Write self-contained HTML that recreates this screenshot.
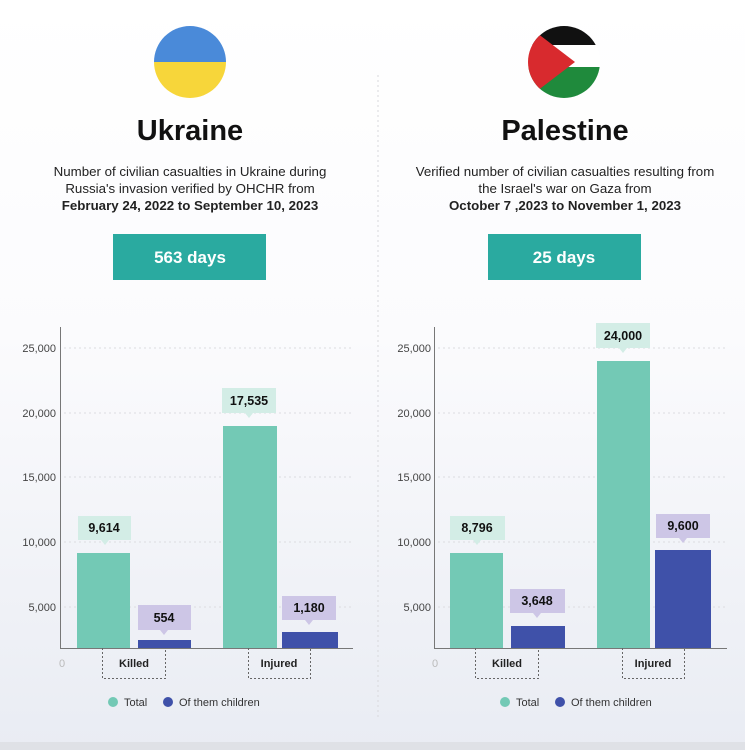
<!DOCTYPE html>
<html><head><meta charset="utf-8"><style>
html,body{margin:0;padding:0;width:745px;height:750px;overflow:hidden}
svg{display:block;font-family:"Liberation Sans",sans-serif}
</style></head><body>
<svg width="745" height="750" viewBox="0 0 745 750" xmlns="http://www.w3.org/2000/svg">
<defs>
<linearGradient id="bg" x1="0" y1="0" x2="0" y2="1">
<stop offset="0" stop-color="#ffffff"/><stop offset="0.45" stop-color="#fbfbfd"/><stop offset="1" stop-color="#e9ecf3"/>
</linearGradient>
<clipPath id="c1"><circle cx="190" cy="62" r="36"/></clipPath>
<clipPath id="c2"><circle cx="564" cy="62" r="36"/></clipPath>
</defs>
<rect width="745" height="750" fill="url(#bg)"/>
<rect y="742" width="745" height="8" fill="#dfe1e6"/>
<line x1="378" y1="75" x2="378" y2="720" stroke="#d8d8dc" stroke-dasharray="2,3"/>
<g clip-path="url(#c1)"><rect x="150" y="20" width="80" height="42" fill="#4a8ad9"/><rect x="150" y="62" width="80" height="40" fill="#f7d63a"/></g>
<g clip-path="url(#c2)"><rect x="520" y="20" width="90" height="25" fill="#111"/><rect x="520" y="45" width="90" height="22" fill="#fff"/><rect x="520" y="67" width="90" height="40" fill="#1f8a3c"/><polygon points="520,20 575,62 520,104" fill="#d82a2e"/></g>
<g font-weight="bold" font-size="29" fill="#111" text-anchor="middle"><text x="190" y="140">Ukraine</text><text x="565" y="140">Palestine</text></g>
<g font-size="13.3" fill="#222" text-anchor="middle">
<text x="190" y="176">Number of civilian casualties in Ukraine during</text>
<text x="190" y="193">Russia's invasion verified by OHCHR from</text>
<text x="190" y="210" font-weight="bold">February 24, 2022 to September 10, 2023</text>
<text x="565" y="176">Verified number of civilian casualties resulting from</text>
<text x="565" y="193">the Israel's war on Gaza from</text>
<text x="565" y="210" font-weight="bold">October 7 ,2023 to November 1, 2023</text>
</g>
<rect x="113" y="234" width="153" height="46" fill="#2aaaa0"/>
<rect x="488" y="234" width="153" height="46" fill="#2aaaa0"/>
<g font-weight="bold" font-size="17" fill="#fff" text-anchor="middle"><text x="190" y="263">563 days</text><text x="564" y="263">25 days</text></g>

<g font-size="11" fill="#444" text-anchor="end">
<text x="56" y="352">25,000</text><text x="56" y="417">20,000</text><text x="56" y="481">15,000</text><text x="56" y="546">10,000</text><text x="56" y="611">5,000</text>
<text x="431" y="352">25,000</text><text x="431" y="417">20,000</text><text x="431" y="481">15,000</text><text x="431" y="546">10,000</text><text x="431" y="611">5,000</text>
</g>
<g font-size="11" fill="#bbb"><text x="59" y="667">0</text><text x="432" y="667">0</text></g>
<g stroke="#dcdce0" stroke-dasharray="2,3">
<line x1="64" y1="348" x2="353" y2="348"/><line x1="64" y1="413" x2="353" y2="413"/><line x1="64" y1="477" x2="353" y2="477"/><line x1="64" y1="542" x2="353" y2="542"/><line x1="64" y1="607" x2="353" y2="607"/>
<line x1="438" y1="348" x2="727" y2="348"/><line x1="438" y1="413" x2="727" y2="413"/><line x1="438" y1="477" x2="727" y2="477"/><line x1="438" y1="542" x2="727" y2="542"/><line x1="438" y1="607" x2="727" y2="607"/>
</g>
<g stroke="#777" stroke-width="1">
<line x1="60.5" y1="327" x2="60.5" y2="648"/><line x1="60" y1="648.5" x2="353" y2="648.5"/>
<line x1="434.5" y1="327" x2="434.5" y2="648"/><line x1="434" y1="648.5" x2="727" y2="648.5"/>
</g>
<g fill="#73c9b5">
<rect x="77" y="553" width="53" height="95"/><rect x="223" y="426" width="54" height="222"/>
<rect x="450" y="553" width="53" height="95"/><rect x="597" y="361" width="53" height="287"/>
</g>
<g fill="#3f51a9">
<rect x="138" y="640" width="53" height="8"/><rect x="282" y="632" width="56" height="16"/>
<rect x="511" y="626" width="54" height="22"/><rect x="655" y="550" width="56" height="98"/>
</g>
<g fill="#d3ede6">
<rect x="78" y="516" width="53" height="24"/><polygon points="101,540 109,540 105,545"/>
<rect x="222" y="388" width="54" height="25"/><polygon points="245,413 253,413 249,418"/>
<rect x="450" y="516" width="55" height="24"/><polygon points="473,540 481,540 477,545"/>
<rect x="596" y="323" width="54" height="25"/><polygon points="619,348 627,348 623,353"/>
</g>
<g fill="#cdc6e6">
<rect x="138" y="605" width="53" height="25"/><polygon points="160,630 168,630 164,635"/>
<rect x="282" y="596" width="54" height="24"/><polygon points="305,620 313,620 309,625"/>
<rect x="510" y="589" width="55" height="24"/><polygon points="533,613 541,613 537,618"/>
<rect x="656" y="514" width="54" height="24"/><polygon points="679,538 687,538 683,543"/>
</g>
<g font-weight="bold" font-size="12.5" fill="#111" text-anchor="middle">
<text x="104" y="532">9,614</text><text x="249" y="405">17,535</text><text x="164" y="622">554</text><text x="309" y="612">1,180</text>
<text x="477" y="532">8,796</text><text x="623" y="340">24,000</text><text x="537" y="605">3,648</text><text x="683" y="530">9,600</text>
</g>
<g fill="none" stroke="#666" stroke-dasharray="2,2">
<path d="M102.5,648 V678.5 H165.5 V648"/><path d="M248.5,648 V678.5 H310.5 V648"/>
<path d="M475.5,648 V678.5 H538.5 V648"/><path d="M622.5,648 V678.5 H684.5 V648"/>
</g>
<g font-weight="bold" font-size="11" fill="#222" text-anchor="middle">
<text x="134" y="667">Killed</text><text x="279" y="667">Injured</text>
<text x="507" y="667">Killed</text><text x="653" y="667">Injured</text>
</g>
<g font-size="11" fill="#333">
<circle cx="113" cy="702" r="5" fill="#73c9b5"/><text x="124" y="706">Total</text>
<circle cx="168" cy="702" r="5" fill="#3f51a9"/><text x="179" y="706">Of them children</text>
<circle cx="505" cy="702" r="5" fill="#73c9b5"/><text x="516" y="706">Total</text>
<circle cx="560" cy="702" r="5" fill="#3f51a9"/><text x="571" y="706">Of them children</text>
</g>
</svg>
</body></html>
